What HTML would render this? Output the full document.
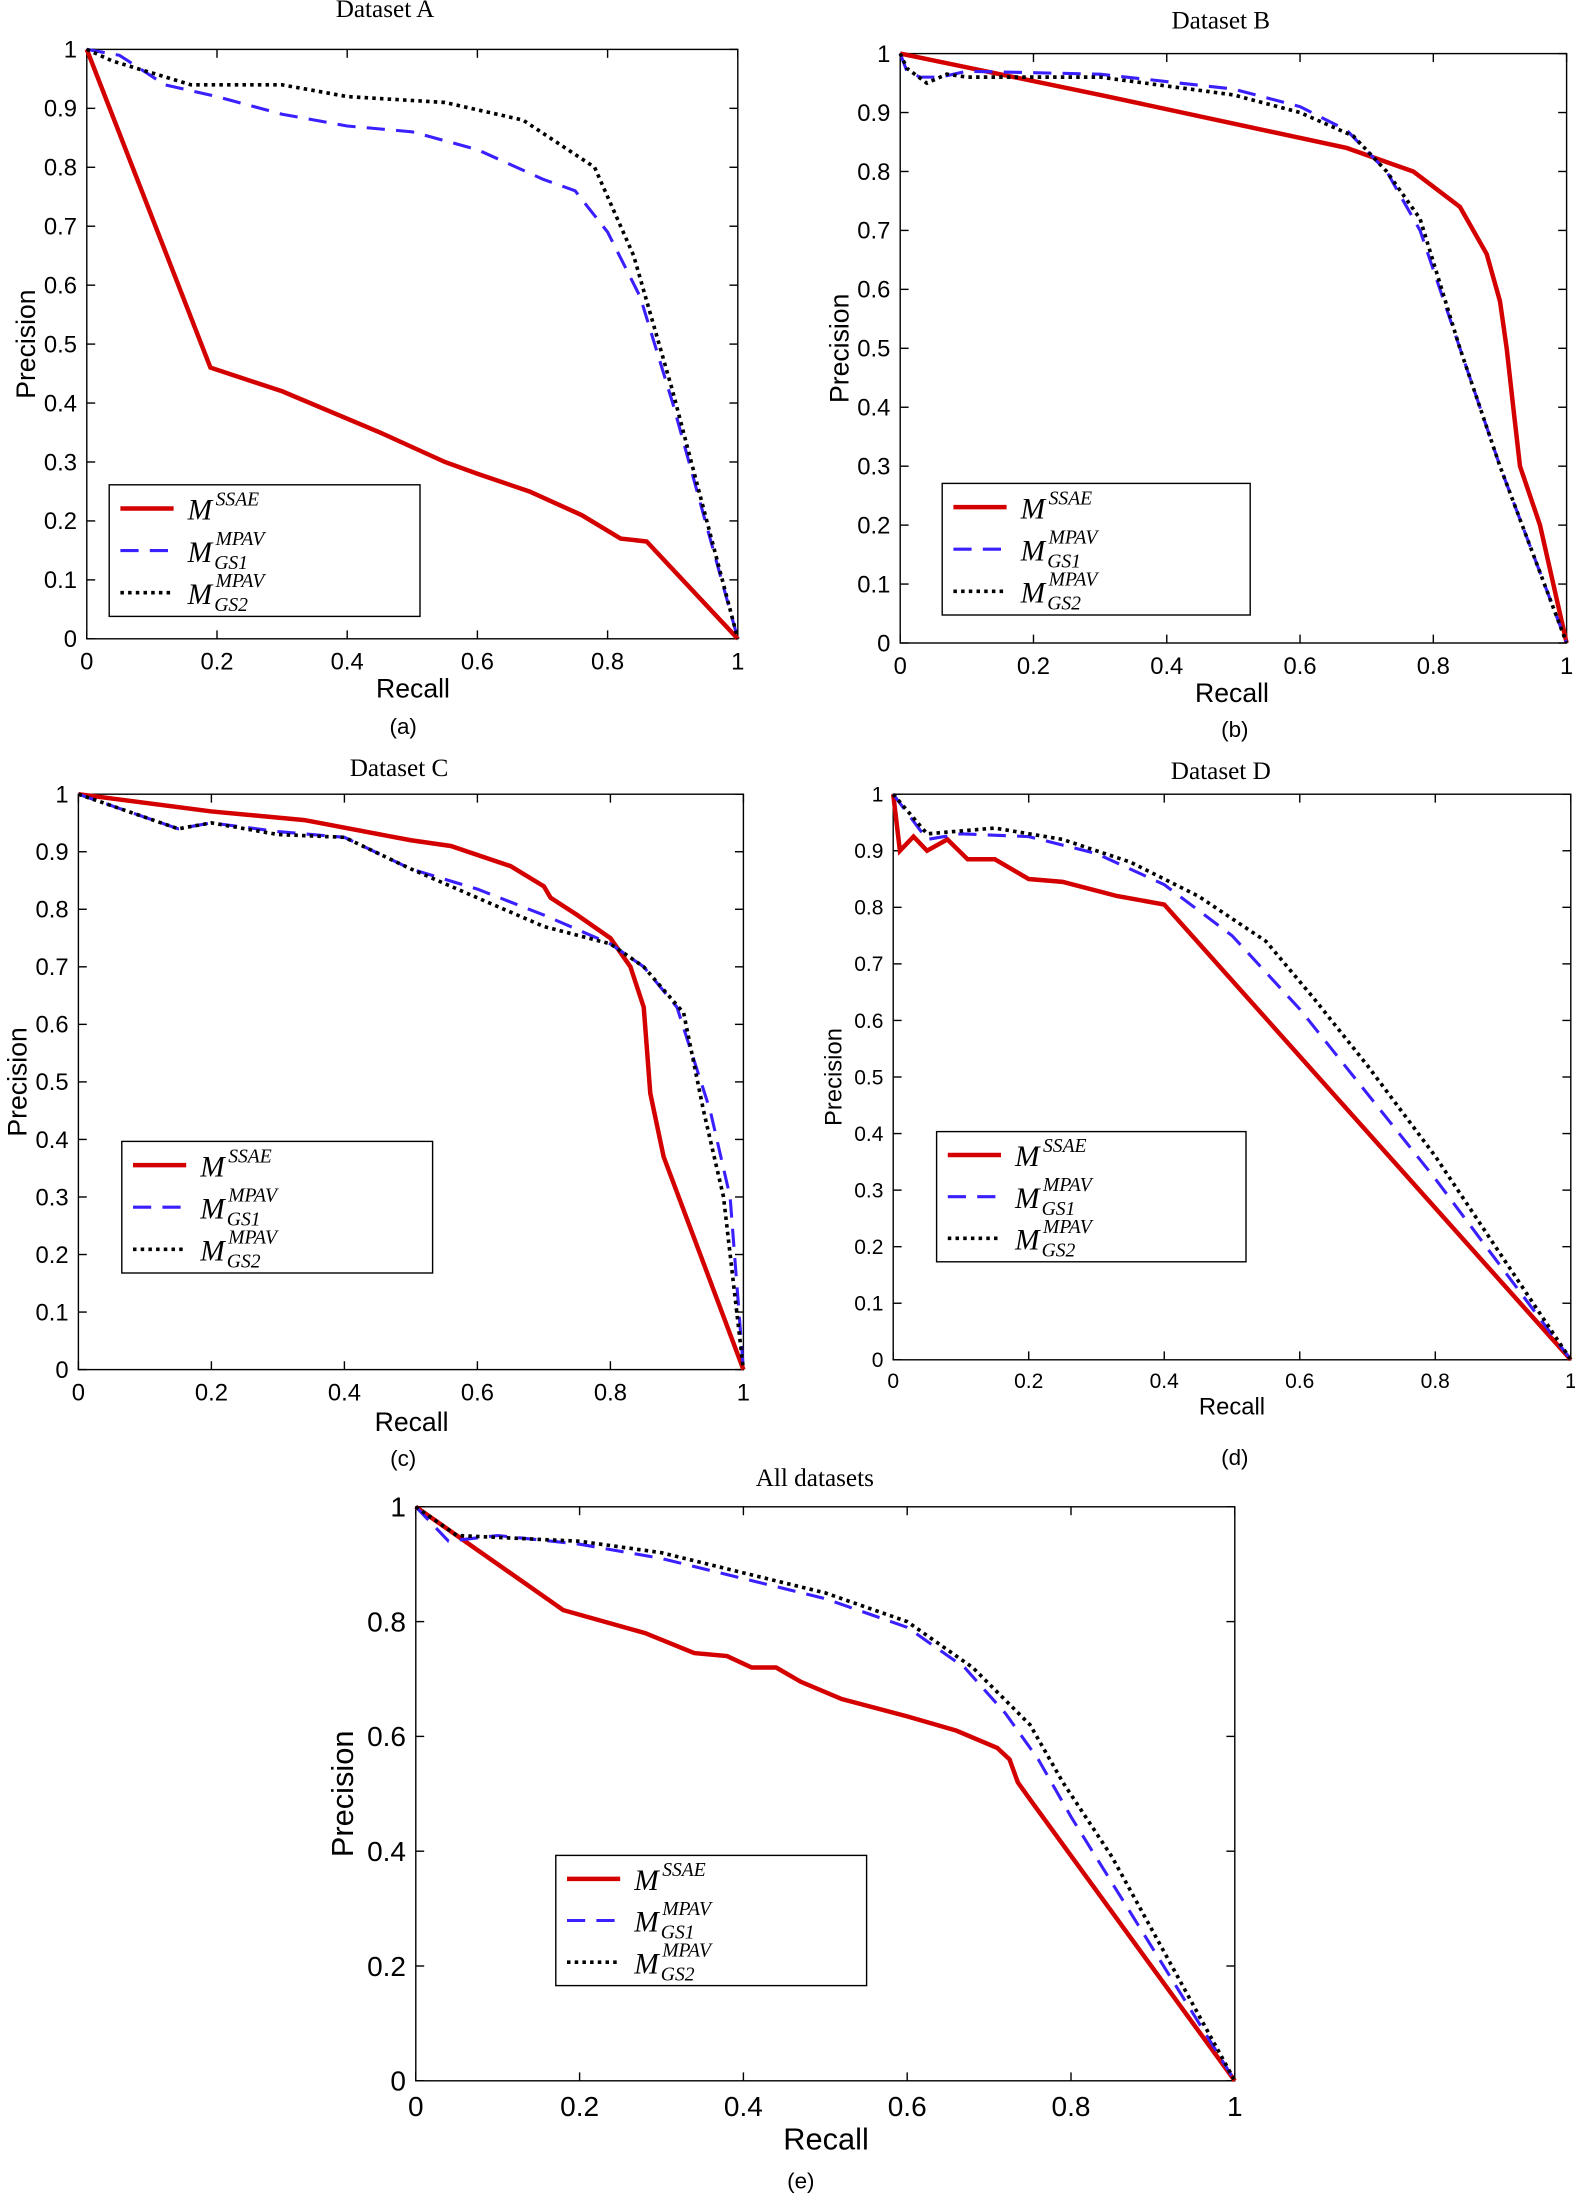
<!DOCTYPE html>
<html><head><meta charset="utf-8">
<style>
html,body{margin:0;padding:0;background:#fff;}
svg{display:block;}
text{font-family:"Liberation Sans",sans-serif;fill:#000;}
.t{font-family:"Liberation Serif",serif;}
</style></head>
<body>
<svg id="s" width="1575" height="2196" viewBox="0 0 1125 1568" xmlns="http://www.w3.org/2000/svg"></svg>
<script>
const S=document.getElementById('s');let h='';
const plots=[
{x0:62,x1:527,y0:456,y1:35,title:'Dataset A',tx:275,ty:12,rx:295,ry:498,lab:'(a)',lx:288,ly:524,leg:[78,346,222,94],fs:17,yt:[0,.1,.2,.3,.4,.5,.6,.7,.8,.9,1],
 d:[[[0,1],[.19,.46],[.3,.42],[.45,.35],[.55,.30],[.6,.28],[.68,.25],[.76,.21],[.82,.17],[.86,.165],[1,0]],
 [[0,1],[.05,.99],[.12,.94],[.2,.92],[.3,.89],[.4,.87],[.5,.86],[.6,.83],[.7,.78],[.75,.76],[.8,.69],[.85,.58],[.9,.4],[1,0]],
 [[0,1],[.04,.98],[.1,.96],[.16,.94],[.3,.94],[.4,.92],[.55,.91],[.67,.88],[.78,.80],[.84,.65],[.9,.42],[1,0]]]},
{x0:643,x1:1119,y0:459,y1:38,title:'Dataset B',tx:872,ty:20,rx:880,ry:501,lab:'(b)',lx:882,ly:526,leg:[673,345,220,94],fs:17,yt:[0,.1,.2,.3,.4,.5,.6,.7,.8,.9,1],
 d:[[[0,1],[.3,.93],[.67,.84],[.77,.80],[.84,.74],[.88,.66],[.9,.58],[.91,.5],[.92,.4],[.93,.3],[.96,.2],[1,0]],
 [[0,1],[.01,.97],[.03,.96],[.06,.96],[.1,.97],[.3,.965],[.5,.94],[.6,.91],[.67,.87],[.73,.8],[.78,.7],[.84,.5],[.9,.3],[1,0]],
 [[0,1],[.01,.975],[.04,.95],[.07,.965],[.1,.96],[.3,.96],[.5,.93],[.6,.9],[.68,.86],[.73,.8],[.78,.72],[.84,.5],[.9,.3],[1,0]]]},
{x0:56,x1:531,y0:978,y1:567,title:'Dataset C',tx:285,ty:554,rx:294,ry:1022,lab:'(c)',lx:288,ly:1047,leg:[87,815,222,94],fs:17,yt:[0,.1,.2,.3,.4,.5,.6,.7,.8,.9,1],
 d:[[[0,1],[.2,.97],[.34,.955],[.5,.92],[.56,.91],[.65,.875],[.7,.84],[.71,.82],[.75,.79],[.8,.75],[.83,.7],[.85,.63],[.86,.48],[.88,.37],[1,0]],
 [[0,1],[.15,.94],[.2,.95],[.3,.935],[.4,.925],[.5,.87],[.6,.835],[.7,.79],[.8,.74],[.85,.7],[.9,.63],[.95,.45],[.98,.3],[1,0]],
 [[0,1],[.15,.94],[.2,.95],[.3,.93],[.4,.925],[.5,.87],[.6,.82],[.7,.77],[.8,.74],[.85,.7],[.91,.62],[.94,.45],[.97,.3],[1,0]]]},
{x0:638,x1:1122,y0:971,y1:567,title:'Dataset D',tx:872,ty:556,rx:880,ry:1010,lab:'(d)',lx:882,ly:1046,leg:[669,808,221,93],fs:15,yt:[0,.1,.2,.3,.4,.5,.6,.7,.8,.9,1],
 d:[[[0,1],[.01,.9],[.03,.925],[.05,.9],[.08,.92],[.11,.885],[.15,.885],[.2,.85],[.25,.845],[.33,.82],[.4,.805],[1,0]],
 [[0,1],[.05,.92],[.1,.93],[.2,.925],[.3,.895],[.4,.84],[.5,.75],[.6,.62],[.7,.47],[.8,.32],[1,0]],
 [[0,1],[.05,.93],[.15,.94],[.25,.92],[.35,.88],[.45,.82],[.55,.74],[.62,.64],[.7,.52],[.8,.36],[1,0]]]},
{x0:297,x1:882,y0:1486,y1:1076,title:'All datasets',tx:582,ty:1061,rx:590,ry:1535,lab:'(e)',lx:572,ly:1563,leg:[397,1325,222,93],fs:20,yt:[0,.2,.4,.6,.8,1],
 d:[[[0,1],[.18,.82],[.28,.78],[.34,.745],[.38,.74],[.41,.72],[.44,.72],[.47,.695],[.52,.665],[.6,.635],[.66,.61],[.71,.58],[.725,.56],[.735,.52],[.75,.49],[1,0]],
 [[0,1],[.04,.94],[.1,.95],[.2,.935],[.3,.91],[.4,.875],[.5,.84],[.6,.79],[.67,.72],[.72,.64],[.76,.56],[.8,.46],[1,0]],
 [[0,1],[.05,.95],[.2,.94],[.3,.92],[.4,.885],[.5,.85],[.6,.8],[.68,.72],[.75,.62],[.79,.52],[.85,.39],[1,0]]]}
];
const sty=[
 'stroke="#d40000" stroke-width="3.2" fill="none"',
 'stroke="#3a1fff" stroke-width="2.2" stroke-dasharray="13,8" fill="none"',
 'stroke="#000" stroke-width="2.6" stroke-dasharray="2.5,3" fill="none"'];
for(const p of plots){
 const X=v=>p.x0+(p.x1-p.x0)*v, Y=v=>p.y0+(p.y1-p.y0)*v;
 h+=`<text class="t" x="${p.tx}" y="${p.ty}" text-anchor="middle" font-size="18">${p.title}</text>`;
 h+=`<rect x="${p.x0}" y="${p.y1}" width="${p.x1-p.x0}" height="${p.y0-p.y1}" fill="none" stroke="#000" stroke-width="1"/>`;
 for(const v of [0,.2,.4,.6,.8,1]){
  const x=X(v);h+=`<line x1="${x}" y1="${p.y0}" x2="${x}" y2="${p.y0-6}" stroke="#000"/><line x1="${x}" y1="${p.y1}" x2="${x}" y2="${p.y1+6}" stroke="#000"/>`;
  h+=`<text x="${x}" y="${p.y0+p.fs+5}" text-anchor="middle" font-size="${p.fs}">${v}</text>`;}
 for(const v of p.yt){
  const y=Y(v);h+=`<line x1="${p.x0}" y1="${y}" x2="${p.x0+6}" y2="${y}" stroke="#000"/><line x1="${p.x1}" y1="${y}" x2="${p.x1-6}" y2="${y}" stroke="#000"/>`;
  h+=`<text x="${p.x0-7}" y="${y+p.fs*0.35}" text-anchor="end" font-size="${p.fs}">${v}</text>`;}
 h+=`<text x="${p.rx}" y="${p.ry}" text-anchor="middle" font-size="${p.fs+2}">Recall</text>`;
 h+=`<text x="${p.lx}" y="${p.ly}" text-anchor="middle" font-size="16">${p.lab}</text>`;
 const yc=(p.y0+p.y1)/2, xc=p.x0-(p.fs>18?45:37);
 h+=`<text x="${xc}" y="${yc}" text-anchor="middle" font-size="${p.fs+2}" transform="rotate(-90 ${xc} ${yc})">Precision</text>`;
 p.d.forEach((d,i)=>{h+=`<polyline points="${d.map(q=>X(q[0]).toFixed(1)+','+Y(q[1]).toFixed(1)).join(' ')}" ${sty[i]}/>`;});
 const [lx,ly,lw,lh]=p.leg;
 h+=`<rect x="${lx}" y="${ly}" width="${lw}" height="${lh}" fill="#fff" stroke="#000"/>`;
 const rows=[ly+lh*0.18,ly+lh*0.5,ly+lh*0.82];
 rows.forEach((ry,i)=>{
  h+=`<line x1="${lx+8}" y1="${ry}" x2="${lx+46}" y2="${ry}" ${sty[i]}/>`;
  const mx=lx+56;
  h+=`<text class="t" x="${mx}" y="${ry+8}" font-size="21" font-style="italic">M</text>`;
  if(i==0)h+=`<text class="t" x="${mx+20}" y="${ry-2}" font-size="14" font-style="italic">SSAE</text>`;
  else h+=`<text class="t" x="${mx+20}" y="${ry-4}" font-size="14" font-style="italic">MPAV</text><text class="t" x="${mx+19}" y="${ry+13}" font-size="14" font-style="italic">GS${i}</text>`;
 });
}
S.innerHTML=h;
</script>
</body></html>
